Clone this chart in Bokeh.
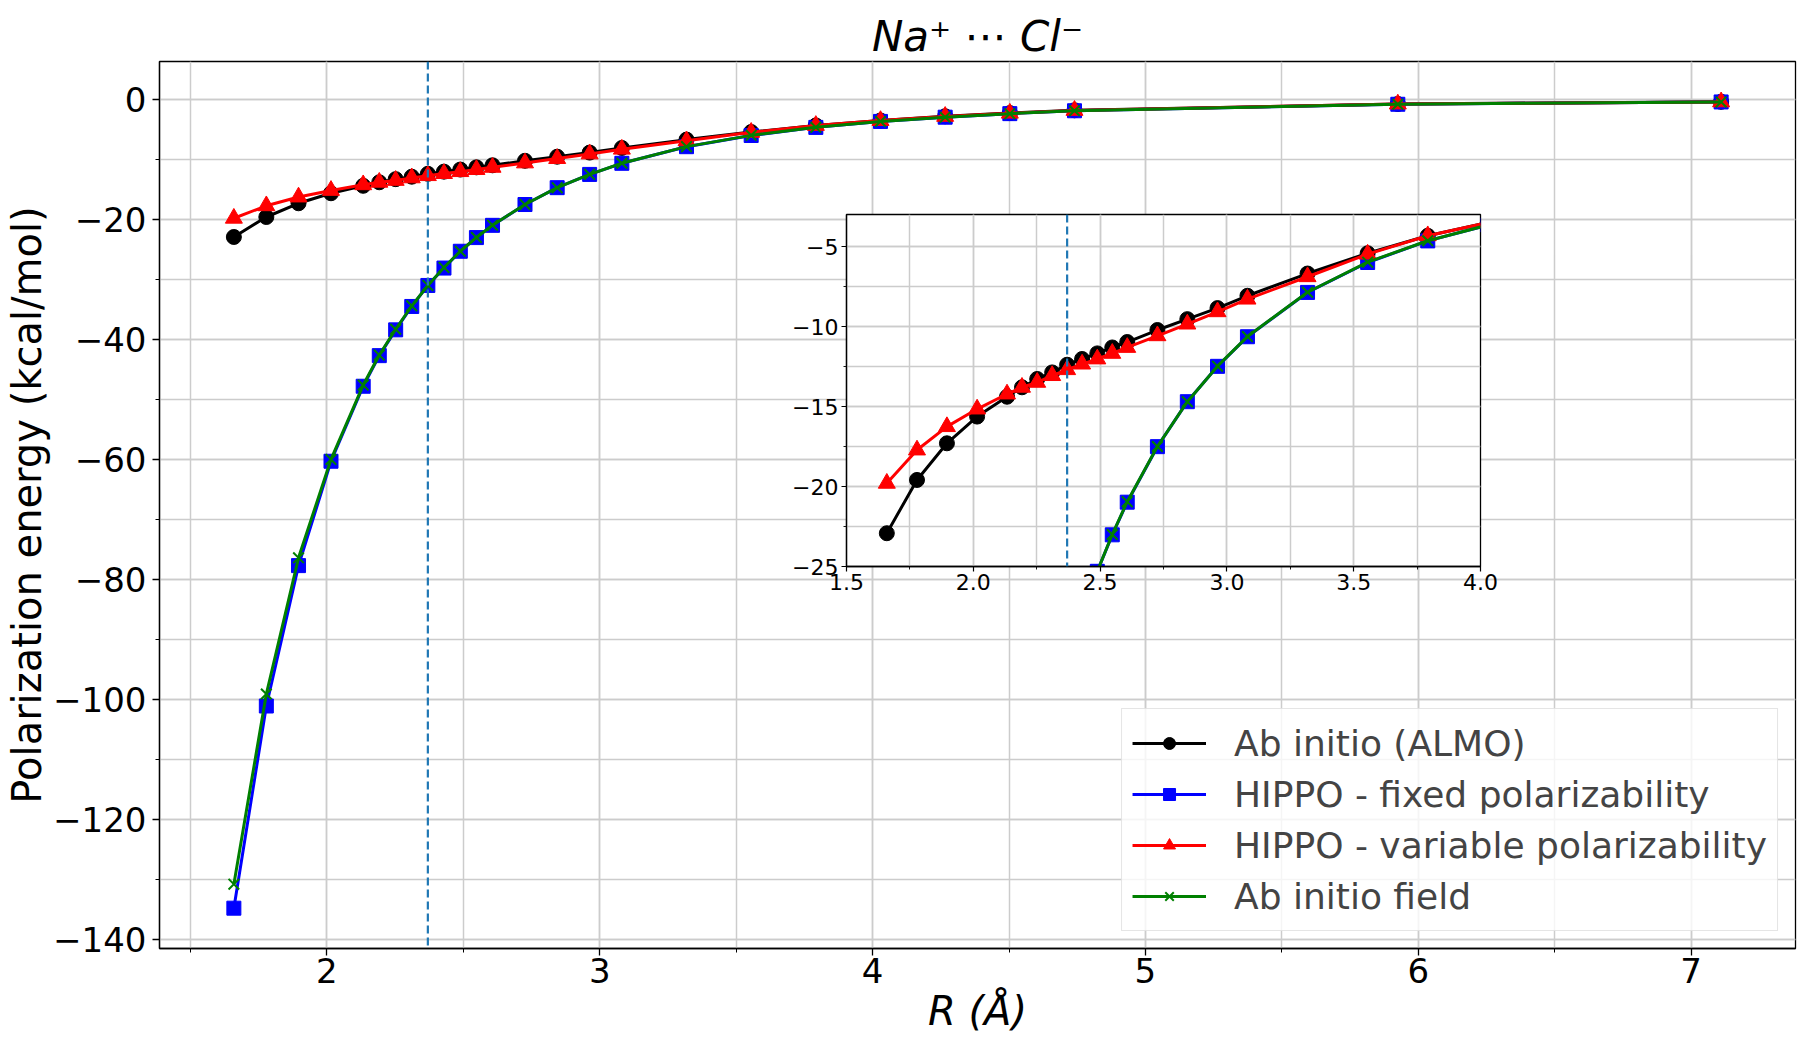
from bokeh.plotting import figure
from bokeh.models import (Span, Legend, LegendItem, SingleIntervalTicker,
                          CustomJSTickFormatter, Range1d)
from bokeh.embed import file_html
from bokeh.resources import INLINE

# ---------------- data ----------------
R = [1.659, 1.778, 1.896, 2.015, 2.133, 2.192, 2.252, 2.311, 2.370, 2.429,
     2.489, 2.548, 2.607, 2.726, 2.844, 2.963, 3.081, 3.318, 3.555, 3.792,
     4.029, 4.266, 4.503, 4.740, 5.925, 7.110]

almo = [-22.92, -19.59, -17.30, -15.63, -14.39, -13.80, -13.28, -12.87, -12.39, -12.03,
        -11.68, -11.31, -10.97, -10.22, -9.54, -8.85, -8.08, -6.69, -5.42, -4.33,
        -3.50, -2.80, -2.27, -1.80, -0.75, -0.39]

hippo_fixed = [-134.8, -101.1, -77.7, -60.3, -47.8, -42.7, -38.4, -34.5, -31.0, -28.1,
               -25.3, -23.02, -20.98, -17.51, -14.70, -12.49, -10.64, -7.87, -6.00, -4.65,
               -3.66, -2.95, -2.36, -1.88, -0.80, -0.41]

hippo_var = [-19.80, -17.72, -16.26, -15.16, -14.22, -13.80, -13.49, -13.07, -12.70, -12.35,
             -12.03, -11.68, -11.31, -10.58, -9.85, -9.08, -8.29, -6.89, -5.48, -4.33,
             -3.51, -2.82, -2.29, -1.82, -0.76, -0.40]

field = [-130.8, -99.1, -76.4, -60.0, -47.6, -42.6, -38.3, -34.4, -31.0, -28.0,
         -25.3, -23.0, -20.95, -17.50, -14.70, -12.48, -10.63, -7.86, -5.98, -4.64,
         -3.66, -2.95, -2.36, -1.88, -0.80, -0.41]

r_eq = 2.37                      # dashed vertical reference line
inset_xlim = [1.5, 4.0]
inset_ylim = [-25.0, -3.0]

labels = ["Ab initio (ALMO)", "HIPPO - fixed polarizability",
          "HIPPO - variable polarizability", "Ab initio field"]

# ---------------- styles ----------------
FONT = "DejaVu Sans"
GRID = "#cccccc"
series = [
    (almo, "black", "circle", 15),
    (hippo_fixed, "blue", "square", 14),
    (hippo_var, "red", "triangle", 17),
    (field, "green", "x", 15),
]

minus_fmt = CustomJSTickFormatter(
    code="return (tick < 0 ? '\\u2212' : '') + Math.abs(tick).toFixed(0);")
minus_fmt_in = CustomJSTickFormatter(
    code="return (tick < 0 ? '\\u2212' : '') + Math.abs(tick).toFixed(0);")
dec_fmt = CustomJSTickFormatter(code="return tick.toFixed(1);")

all_y = almo + hippo_fixed + hippo_var + field
xpad = 0.05 * (max(R) - min(R))
ypad = 0.05 * (max(all_y) - min(all_y))

# ---------------- main figure ----------------
p = figure(width=1798, height=1042,
           x_range=Range1d(min(R) - xpad, max(R) + xpad),
           y_range=Range1d(min(all_y) - ypad, max(all_y) + ypad),
           output_backend="svg", toolbar_location=None,
           min_border_left=159, min_border_right=3,
           min_border_top=61, min_border_bottom=94)

p.title.text = "Na\u207a \u22ef Cl\u207b"
p.title.align = "center"
p.title.text_font = FONT
p.title.text_font_size = "42px"
p.title.text_font_style = "italic"
p.title.text_color = "black"
p.title.standoff = 2

p.xaxis.ticker = SingleIntervalTicker(interval=1, num_minor_ticks=2)
p.yaxis.ticker = SingleIntervalTicker(interval=20, num_minor_ticks=2)
p.yaxis.formatter = minus_fmt

for ax in (p.xaxis[0], p.yaxis[0]):
    ax.axis_line_color = "black"
    ax.axis_line_width = 1.3
    ax.major_tick_line_color = "black"
    ax.major_tick_line_width = 1.3
    ax.minor_tick_line_color = "black"
    ax.minor_tick_line_width = 1.0
    ax.major_tick_in = 0
    ax.major_tick_out = 7
    ax.minor_tick_in = 0
    ax.minor_tick_out = 4
    ax.major_label_text_font = FONT
    ax.major_label_text_font_size = "34px"
    ax.major_label_text_color = "black"
    ax.axis_label_text_font = FONT
    ax.axis_label_text_font_size = "40px"
    ax.axis_label_text_color = "black"

p.xaxis.axis_label = "R (\u00c5)"
p.xaxis.axis_label_text_font_style = "italic"
p.xaxis.major_label_standoff = 2
p.xaxis.axis_label_standoff = 2
p.yaxis.axis_label = "Polarization energy (kcal/mol)"
p.yaxis.axis_label_text_font_style = "normal"
p.yaxis.major_label_standoff = 6
p.yaxis.axis_label_standoff = 0

for g in (p.xgrid[0], p.ygrid[0]):
    g.grid_line_color = GRID
    g.grid_line_width = 1.5
    g.minor_grid_line_color = GRID
    g.minor_grid_line_width = 1.5

p.outline_line_color = "black"
p.outline_line_width = 1.3
p.background_fill_color = "white"
p.border_fill_color = "white"

p.add_layout(Span(location=r_eq, dimension="height", line_color="#1f77b4",
                  line_dash="8 4", line_width=2.2))

items = []
for (ys, col, mk, sz), lab in zip(series, labels):
    ln = p.line(R, ys, line_color=col, line_width=3)
    sc = p.scatter(R, ys, marker=mk, size=sz, fill_color=col, line_color=col,
                   line_width=2 if mk == "x" else 1)
    items.append(LegendItem(label=lab, renderers=[ln, sc]))

legend = Legend(items=items, location="bottom_right", margin=17, padding=10,
                spacing=3, label_height=48, glyph_width=74, glyph_height=30,
                label_standoff=28, label_text_font=FONT, label_text_font_size="36px",
                border_line_color="#cccccc", border_line_width=1.5,
                background_fill_color="white", background_fill_alpha=0.8)
p.add_layout(legend)

# ---------------- inset figure ----------------
inset = figure(width=724, height=407,
               x_range=Range1d(*inset_xlim), y_range=Range1d(*inset_ylim),
               output_backend="svg", toolbar_location=None,
               min_border_left=70, min_border_right=20,
               min_border_top=10, min_border_bottom=45)
inset.xaxis.ticker = SingleIntervalTicker(interval=0.5, num_minor_ticks=2)
inset.yaxis.ticker = SingleIntervalTicker(interval=5, num_minor_ticks=2)
inset.xaxis.formatter = dec_fmt
inset.yaxis.formatter = minus_fmt_in
for ax in (inset.xaxis[0], inset.yaxis[0]):
    ax.axis_line_color = "black"
    ax.axis_line_width = 1.3
    ax.major_tick_line_color = "black"
    ax.major_tick_line_width = 1.2
    ax.minor_tick_line_color = "black"
    ax.minor_tick_line_width = 0.9
    ax.major_tick_in = 0
    ax.major_tick_out = 5
    ax.minor_tick_in = 0
    ax.minor_tick_out = 3
    ax.major_label_text_font = FONT
    ax.major_label_text_font_size = "22px"
    ax.major_label_text_color = "black"
inset.xaxis.major_label_standoff = 2
inset.yaxis.major_label_standoff = 3
for g in (inset.xgrid[0], inset.ygrid[0]):
    g.grid_line_color = GRID
    g.grid_line_width = 1.5
    g.minor_grid_line_color = GRID
    g.minor_grid_line_width = 1.5
inset.outline_line_color = "black"
inset.outline_line_width = 1.3
inset.background_fill_color = "white"
inset.border_fill_color = None
inset.border_fill_alpha = 0

inset.add_layout(Span(location=r_eq, dimension="height", line_color="#1f77b4",
                      line_dash="8 4", line_width=2.2))
for (ys, col, mk, sz) in series:
    inset.line(R, ys, line_color=col, line_width=3)
    inset.scatter(R, ys, marker=mk, size=sz, fill_color=col, line_color=col,
                  line_width=2 if mk == "x" else 1)

# the inset floats over the main figure (separate root, no frame alignment)
inset.styles = {"position": "absolute", "left": "776px", "top": "204px",
                "z-index": "10"}

open("out.html", "w", encoding="utf-8").write(file_html([p, inset], INLINE))
